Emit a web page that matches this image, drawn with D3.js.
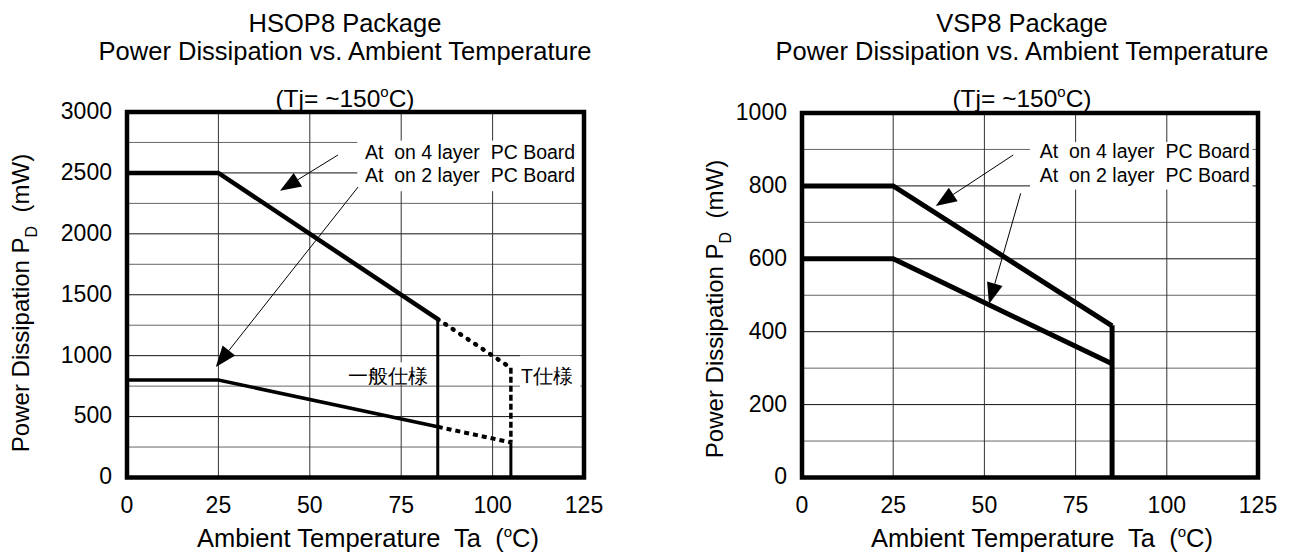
<!DOCTYPE html>
<html>
<head>
<meta charset="utf-8">
<script src="https://cdn.jsdelivr.net/npm/d3@7"></script>
<style>
  body { margin: 0; background: #fff; }
  text { font-family: "Liberation Sans", Arial, sans-serif; fill: #000; }
</style>
</head>
<body>
<script>
// temperatures (deg C) and allowed power (mW)
var xTicks = [0, 25, 50, 75, 100, 125];

var hsopTicks = [0, 500, 1000, 1500, 2000, 2500, 3000];
var hsopTemp = [0, 25, 85, 105];
var hsop4Layer = [2500, 2500, 1300, 900];
var hsop2Layer = [800, 800, 416, 288];

var vspTicks = [0, 200, 400, 600, 800, 1000];
var vspTemp = [0, 25, 85];
var vsp4Layer = [800, 800, 416];
var vsp2Layer = [600, 600, 312];

var legendLabels = ['At  on 4 layer  PC Board', 'At  on 2 layer  PC Board'];

var W = 1293, H = 554;
var svg = d3.select('body').append('svg')
  .attr('width', W)
  .attr('height', H);

function drawChart(cfg) {
  var x = d3.scaleLinear().domain([0, 125]).range([cfg.left, cfg.right]);
  var y = d3.scaleLinear().domain([0, cfg.yMax]).range([477.5, cfg.top]);
  var g = svg.append('g');

  // grid: minor horizontal, major horizontal, vertical
  var minor = d3.range(cfg.minorStep, cfg.yMax, cfg.minorStep)
    .filter(function(v) { return cfg.yTicks.indexOf(v) < 0; });
  g.append('g').selectAll('line').data(minor)
    .enter().append('line')
      .attr('x1', x(0)).attr('x2', x(125))
      .attr('y1', function(d) { return y(d); })
      .attr('y2', function(d) { return y(d); })
      .attr('stroke', '#666').attr('stroke-width', 1);
  g.append('g').selectAll('line').data(cfg.yTicks.slice(1, -1))
    .enter().append('line')
      .attr('x1', x(0)).attr('x2', x(125))
      .attr('y1', function(d) { return y(d); })
      .attr('y2', function(d) { return y(d); })
      .attr('stroke', '#111').attr('stroke-width', 1);
  g.append('g').selectAll('line').data(xTicks.slice(1, -1))
    .enter().append('line')
      .attr('x1', function(d) { return x(d); })
      .attr('x2', function(d) { return x(d); })
      .attr('y1', y(0)).attr('y2', y(cfg.yMax))
      .attr('stroke', '#333').attr('stroke-width', 1);

  // white boxes behind annotation text
  cfg.boxes.forEach(function(b) {
    g.append('rect')
      .attr('x', x(b[0])).attr('y', y(b[3]))
      .attr('width', x(b[1]) - x(b[0]))
      .attr('height', y(b[2]) - y(b[3]))
      .attr('fill', '#fff');
  });

  var line = d3.line()
    .x(function(d) { return x(d[0]); })
    .y(function(d) { return y(d[1]); });

  cfg.paths.forEach(function(p) {
    g.append('path')
      .attr('d', line(p.pts))
      .attr('fill', 'none')
      .attr('stroke', '#000')
      .attr('stroke-width', p.w)
      .attr('stroke-dasharray', p.dash || null)
      .attr('stroke-linecap', p.cap || 'butt')
      .attr('stroke-linejoin', 'miter');
  });

  // frame
  g.append('rect')
    .attr('x', x(0)).attr('y', y(cfg.yMax))
    .attr('width', x(125) - x(0))
    .attr('height', y(0) - y(cfg.yMax))
    .attr('fill', 'none')
    .attr('stroke', '#000')
    .attr('stroke-width', 4.5);

  // arrows
  cfg.arrows.forEach(function(a) {
    var x1 = x(a[0]), y1 = y(a[1]), x2 = x(a[2]), y2 = y(a[3]);
    var ang = Math.atan2(y2 - y1, x2 - x1);
    var len = 21, hw = 8;
    var bx = x2 - len * Math.cos(ang), by = y2 - len * Math.sin(ang);
    g.append('line')
      .attr('x1', x1).attr('y1', y1).attr('x2', bx).attr('y2', by)
      .attr('stroke', '#000').attr('stroke-width', 1);
    g.append('path')
      .attr('d', 'M' + x2 + ',' + y2 +
        'L' + (bx + hw * Math.sin(ang)) + ',' + (by - hw * Math.cos(ang)) +
        'L' + (bx - hw * Math.sin(ang)) + ',' + (by + hw * Math.cos(ang)) + 'Z')
      .attr('fill', '#000');
  });

  // legend / notes
  cfg.notes.forEach(function(n) {
    g.append('text')
      .attr('x', x(n.x)).attr('y', y(n.y))
      .attr('text-anchor', n.anchor || 'start')
      .style('font-size', '19.5px')
      .style('white-space', 'pre')
      .text(n.text);
  });

  // tick labels
  g.append('g').selectAll('text').data(cfg.yTicks)
    .enter().append('text')
      .attr('x', cfg.left - 15)
      .attr('y', function(d) { return y(d); })
      .attr('dy', '0.3em')
      .attr('text-anchor', 'end')
      .style('font-size', '23px')
      .text(function(d) { return d; });
  g.append('g').selectAll('text').data(xTicks)
    .enter().append('text')
      .attr('x', function(d) { return x(d); })
      .attr('y', 513)
      .attr('text-anchor', 'middle')
      .style('font-size', '23px')
      .text(function(d) { return d; });

  // titles
  var cx = cfg.titleX;
  g.append('text').attr('x', cx).attr('y', 32).attr('text-anchor', 'middle')
    .style('font-size', '25.5px').text(cfg.title);
  g.append('text').attr('x', cx).attr('y', 60).attr('text-anchor', 'middle')
    .style('font-size', '25.5px').text('Power Dissipation vs. Ambient Temperature');
  var tj = g.append('text').attr('x', cx).attr('y', 107).attr('text-anchor', 'middle')
    .style('font-size', '24.5px');
  tj.append('tspan').text('(Tj= ~150');
  tj.append('tspan').attr('dy', -10).style('font-size', '15px').text('o');
  tj.append('tspan').attr('dy', 10).text('C)');

  var xt = g.append('text').attr('x', cfg.xTitleX).attr('y', 547)
    .attr('text-anchor', 'middle').style('font-size', '25.5px')
    .style('white-space', 'pre');
  xt.append('tspan').text('Ambient Temperature  Ta  (');
  xt.append('tspan').attr('dy', -10).style('font-size', '15px').text('o');
  xt.append('tspan').attr('dy', 10).text('C)');

  var yt = g.append('text')
    .attr('transform', 'translate(' + cfg.yTitleX + ',' + cfg.yTitleY + ') rotate(-90)')
    .attr('text-anchor', 'middle').style('font-size', '24px')
    .style('white-space', 'pre');
  yt.append('tspan').text('Power Dissipation P');
  yt.append('tspan').attr('dy', 8).style('font-size', '16px').text('D');
  yt.append('tspan').attr('dy', -8).text('  (mW)');
}

// HSOP8
drawChart({
  left: 127, right: 584, top: 112, yMax: 3000, minorStep: 250,
  yTicks: hsopTicks, title: 'HSOP8 Package',
  titleX: 345, xTitleX: 368, yTitleX: 29, yTitleY: 303,
  boxes: [[63, 124.5, 2350, 2765], [59, 84, 760, 945], [107.5, 124, 740, 1000]],
  paths: [
    { pts: [[hsopTemp[0], hsop4Layer[0]], [hsopTemp[1], hsop4Layer[1]], [hsopTemp[2], hsop4Layer[2]]], w: 4.5 },
    { pts: [[hsopTemp[2], hsop4Layer[2]], [hsopTemp[2], 0]], w: 3 },
    { pts: [[hsopTemp[0], hsop2Layer[0]], [hsopTemp[1], hsop2Layer[1]], [hsopTemp[2], hsop2Layer[2]]], w: 3.5 },
    { pts: [[hsopTemp[2], hsop4Layer[2]], [hsopTemp[3], hsop4Layer[3]]], w: 4.5, dash: '1 8', cap: 'round' },
    { pts: [[hsopTemp[2], hsop2Layer[2]], [hsopTemp[3], hsop2Layer[3]]], w: 4, dash: '5 4' },
    { pts: [[hsopTemp[3], hsop4Layer[3]], [hsopTemp[3], hsop2Layer[3]]], w: 3.5, dash: '6 3' },
    { pts: [[hsopTemp[3], hsop2Layer[3]], [hsopTemp[3], 0]], w: 3 }
  ],
  arrows: [[57.7, 2647, 41.85, 2354], [63.2, 2384, 24.3, 907]],
  notes: [
    { x: 122.6, y: 2618, text: legendLabels[0], anchor: 'end' },
    { x: 122.6, y: 2425, text: legendLabels[1], anchor: 'end' },
    { x: 71.5, y: 775, text: '一般仕様', anchor: 'middle' },
    { x: 107.8, y: 775, text: 'T仕様' }
  ]
});

// VSP8
drawChart({
  left: 802, right: 1258, top: 113, yMax: 1000, minorStep: 100,
  yTicks: vspTicks, title: 'VSP8 Package',
  titleX: 1022, xTitleX: 1042, yTitleX: 723, yTitleY: 309,
  boxes: [[62.5, 123.5, 790, 920]],
  paths: [
    { pts: [[vspTemp[0], vsp4Layer[0]], [vspTemp[1], vsp4Layer[1]], [vspTemp[2], vsp4Layer[2]]], w: 5 },
    { pts: [[vspTemp[0], vsp2Layer[0]], [vspTemp[1], vsp2Layer[1]], [vspTemp[2], vsp2Layer[2]]], w: 5 },
    { pts: [[vspTemp[2], vsp4Layer[2] + 2], [vspTemp[2], 0]], w: 5 }
  ],
  arrows: [[57.9, 884.8, 36.65, 744.9], [59.95, 779.7, 51.26, 476]],
  notes: [
    { x: 122.8, y: 876, text: legendLabels[0], anchor: 'end' },
    { x: 122.8, y: 811, text: legendLabels[1], anchor: 'end' }
  ]
});
</script>
</body>
</html>
